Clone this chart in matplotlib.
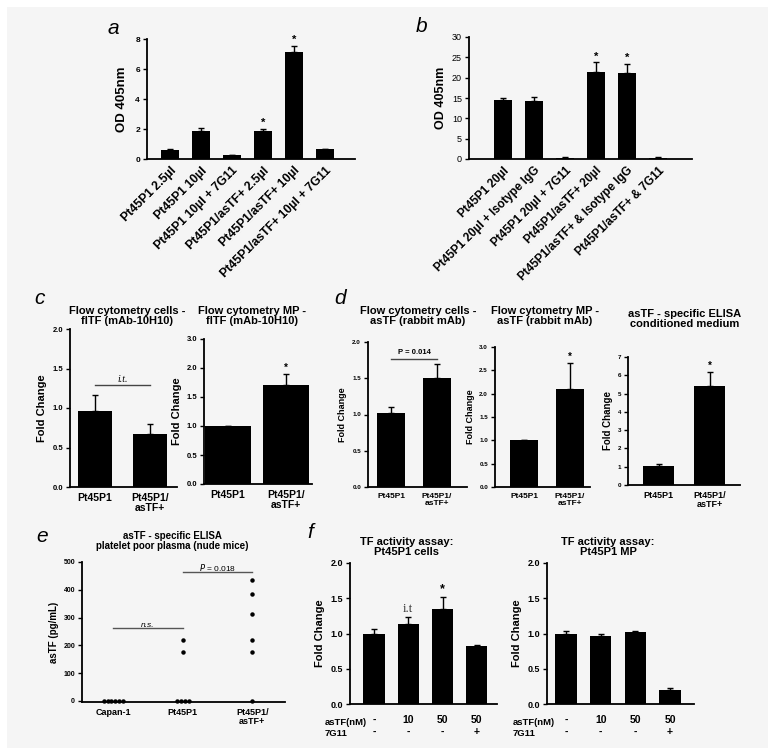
import matplotlib
matplotlib.use('Agg')
import matplotlib.pyplot as plt
from matplotlib.patches import Rectangle
import numpy as np

plt.rcParams['font.family'] = ['Liberation Sans', 'DejaVu Sans']

W, H = 778, 756

# ---- data ----
# a: chromogenic assay, MP volumes
a_labels = ['Pt45P1 2.5µl', 'Pt45P1 10µl', 'Pt45P1 10µl + 7G11', 'Pt45P1/asTF+ 2.5µl',
            'Pt45P1/asTF+ 10µl', 'Pt45P1/asTF+ 10µl + 7G11']
a_vals = [0.6, 1.85, 0.25, 1.85, 7.15, 0.65]
a_err = [0.1, 0.2, 0.04, 0.15, 0.4, 0.04]
a_star = [0, 0, 0, 1, 1, 0]

# b
b_labels = ['Pt45P1 20µl', 'Pt45P1 20µl + Isotype IgG', 'Pt45P1 20µl + 7G11', 'Pt45P1/asTF+ 20µl',
            'Pt45P1/asTF+ & Isotype IgG', 'Pt45P1/asTF+ & 7G11']
b_vals = [14.5, 14.3, 0.3, 21.5, 21.1, 0.3]
b_err = [0.4, 0.9, 0.1, 2.3, 2.3, 0.1]
b_star = [0, 0, 0, 1, 1, 0]

two_groups = ['Pt45P1', 'Pt45P1/\nasTF+']

# c
c1_vals = [0.96, 0.67]
c1_err = [0.21, 0.13]
c2_vals = [1.0, 1.7]
c2_err = [0.0, 0.2]
c2_ticks = ['0.0', '0.5', '1.0', '1.5', '2.0', '3.0']

# d
d1_vals = [1.02, 1.51]
d1_err = [0.08, 0.19]
d2_vals = [1.0, 2.1]
d2_err = [0.0, 0.55]
d3_vals = [1.02, 5.4]
d3_err = [0.12, 0.8]

# e: scatter
e_groups = ['Capan-1', 'Pt45P1', 'Pt45P1/\nasTF+']
e_capan = [0, 0, 0, 0, 0, 0]
e_pt = [220, 175, 0, 0, 0, 0]
e_as = [435, 385, 312, 220, 175, 0]

# f
f_astf = ['-', '10', '50', '50']
f_7g11 = ['-', '-', '-', '+']
f1_vals = [1.0, 1.13, 1.35, 0.82]
f1_err = [0.06, 0.1, 0.17, 0.02]
f2_vals = [1.0, 0.96, 1.02, 0.2]
f2_err = [0.03, 0.03, 0.02, 0.03]

fig = plt.figure(figsize=(W / 100, H / 100), dpi=100)
fig.patch.set_facecolor('white')
fig.patches.append(Rectangle((7 / W, 1 - 748 / H), (768 - 7) / W, (748 - 7) / H,
                             transform=fig.transFigure, facecolor='#f5f5f5', edgecolor='none', zorder=-10))


def add_ax(x0, y0, x1, y1):
    ax = fig.add_axes([x0 / W, 1 - y1 / H, (x1 - x0) / W, (y1 - y0) / H])
    ax.patch.set_visible(False)
    for s in ['top', 'right']:
        ax.spines[s].set_visible(False)
    for s in ['left', 'bottom']:
        ax.spines[s].set_linewidth(1.3)
    ax.tick_params(axis='y', direction='out', length=3, width=1, pad=2)
    ax.tick_params(axis='x', length=0, pad=4)
    return ax


def ftext(x, y, s, **kw):
    return fig.text(x / W, 1 - y / H, s, **kw)


def bars(ax, vals, err, width, stars=None, pad=0.0, star_size=8):
    x = np.arange(len(vals))
    ax.bar(x, vals, width, color='black', zorder=2)
    ax.errorbar(x, vals, yerr=[np.zeros(len(vals)), err], fmt='none', ecolor='black',
                elinewidth=1, capsize=2.5, capthick=1, zorder=1)
    if stars:
        for xi, v, e, s in zip(x, vals, err, stars):
            if s:
                ax.text(xi, v + e + pad, '*', ha='center', va='bottom', fontsize=star_size,
                        fontweight='bold')
    return x


def yticks(ax, ticks, labels, size, bold=True):
    ax.set_yticks(ticks)
    ax.set_yticklabels(labels, fontsize=size, fontweight='bold' if bold else 'normal')


# ---- panel a ----
ax = add_ax(147, 39, 355, 159)
x = bars(ax, a_vals, a_err, 0.58, a_star, 0.05)
ax.set_ylim(0, 8)
ax.set_xlim(-0.74, 5.97)
yticks(ax, [0, 2, 4, 6, 8], ['0', '2', '4', '6', '8'], 6)
ax.set_xticks(x)
ax.set_xticklabels(a_labels, rotation=45, ha='right', rotation_mode='anchor', fontsize=8.8,
                   fontweight='bold')
ax.set_ylabel('OD 405nm', fontsize=9.5, fontweight='bold', labelpad=5)
ftext(113, 28, 'a', fontsize=15, style='italic', ha='center', va='center')

# ---- panel b ----
ax = add_ax(469, 37, 692, 159)
x = bars(ax, b_vals, b_err, 0.6, b_star, 0.2)
ax.set_ylim(0, 30)
ax.set_xlim(-1.1, 6.1)
yticks(ax, [0, 5, 10, 15, 20, 25, 30], ['0', '5', '10', '15', '20', '25', '30'], 6.5, bold=False)
ax.set_xticks(x)
ax.set_xticklabels(b_labels, rotation=45, ha='right', rotation_mode='anchor', fontsize=8.5,
                   fontweight='bold')
ax.set_ylabel('OD 405nm', fontsize=9, fontweight='bold', labelpad=4)
ftext(422, 26, 'b', fontsize=15, style='italic', ha='center', va='center')

# ---- panel c ----
ax = add_ax(70, 329, 177, 487)
x = bars(ax, c1_vals, c1_err, 0.62)
ax.set_ylim(0, 2.0)
ax.set_xlim(-0.45, 1.49)
yticks(ax, [0, 0.5, 1.0, 1.5, 2.0], ['0.0', '0.5', '1.0', '1.5', '2.0'], 5.5)
ax.set_xticks(x)
ax.set_xticklabels(two_groups, fontsize=7.5, fontweight='bold', linespacing=1.1)
ax.set_ylabel('Fold Change', fontsize=8, fontweight='bold', labelpad=4)
ax.plot([0, 1], [1.29, 1.29], color='#444444', lw=1)
ax.text(0.5, 1.31, 'i.t.', ha='center', va='bottom', fontsize=7, style='italic',
        family='Liberation Serif')
ftext(127, 316, 'Flow cytometry cells -\nflTF (mAb-10H10)', ha='center', va='center', fontsize=8,
      fontweight='bold', linespacing=1.1)
ftext(40, 298, 'c', fontsize=15, style='italic', ha='center', va='center')

ax = add_ax(204, 339, 312, 484)
x = bars(ax, c2_vals, c2_err, 0.8, [0, 1], 0.02, star_size=7)
ax.set_ylim(0, 2.5)
ax.set_xlim(-0.41, 1.45)
yticks(ax, [0, 0.5, 1.0, 1.5, 2.0, 2.5], c2_ticks, 5.5)
ax.set_xticks(x)
ax.set_xticklabels(two_groups, fontsize=7.5, fontweight='bold', linespacing=1.1)
ax.set_ylabel('Fold Change', fontsize=8, fontweight='bold', labelpad=3)
ftext(252, 316, 'Flow cytometry MP -\nflTF (mAb-10H10)', ha='center', va='center', fontsize=8,
      fontweight='bold', linespacing=1.1)

# ---- panel d ----
ax = add_ax(368, 342, 467, 487)
x = bars(ax, d1_vals, d1_err, 0.62)
ax.set_ylim(0, 2.0)
ax.set_xlim(-0.5, 1.65)
yticks(ax, [0, 0.5, 1.0, 1.5, 2.0], ['0.0', '0.5', '1.0', '1.5', '2.0'], 4.5)
ax.set_xticks(x)
ax.set_xticklabels(two_groups, fontsize=6, fontweight='bold', linespacing=1.1)
ax.set_ylabel('Fold Change', fontsize=6.5, fontweight='bold', labelpad=4)
ax.plot([0, 1], [1.77, 1.77], color='#444444', lw=1)
ax.text(0.5, 1.8, 'P = 0.014', ha='center', va='bottom', fontsize=5.5, fontweight='bold')
ftext(418, 316, 'Flow cytometry cells -\nasTF (rabbit mAb)', ha='center', va='center', fontsize=8,
      fontweight='bold', linespacing=1.1)
ftext(340, 298, 'd', fontsize=15, style='italic', ha='center', va='center')

ax = add_ax(495, 347, 590, 487)
x = bars(ax, d2_vals, d2_err, 0.6, [0, 1], 0.03, star_size=7)
ax.set_ylim(0, 3.0)
ax.set_xlim(-0.63, 1.43)
yticks(ax, [0, 0.5, 1.0, 1.5, 2.0, 2.5, 3.0], ['0.0', '0.5', '1.0', '1.5', '2.0', '2.5', '3.0'], 4.5)
ax.set_xticks(x)
ax.set_xticklabels(two_groups, fontsize=6, fontweight='bold', linespacing=1.1)
ax.set_ylabel('Fold Change', fontsize=6.5, fontweight='bold', labelpad=3)
ftext(545, 316, 'Flow cytometry MP -\nasTF (rabbit mAb)', ha='center', va='center', fontsize=8,
      fontweight='bold', linespacing=1.1)

ax = add_ax(628, 357, 740, 485)
x = bars(ax, d3_vals, d3_err, 0.6, [0, 1], 0.05, star_size=7)
ax.set_ylim(0, 7)
ax.set_xlim(-0.6, 1.59)
yticks(ax, range(8), [str(i) for i in range(8)], 4.5)
ax.set_xticks(x)
ax.set_xticklabels(two_groups, fontsize=6.5, fontweight='bold', linespacing=1.1)
ax.set_ylabel('Fold Change', fontsize=7, fontweight='bold', labelpad=3)
ftext(685, 319, 'asTF - specific ELISA\nconditioned medium', ha='center', va='center', fontsize=8,
      fontweight='bold', linespacing=1.1)

# ---- panel e ----
ax = add_ax(82, 562, 285, 702)
for i, vals in enumerate([e_capan, e_pt, e_as]):
    vals = np.array(vals, dtype=float)
    xs = np.full(len(vals), float(i))
    zeros = np.where(vals == 0)[0]
    if len(zeros) > 1:
        xs[zeros] = i + (np.arange(len(zeros)) - (len(zeros) - 1) / 2) * 0.055
    ax.plot(xs, vals, 'o', color='black', markersize=2.2, clip_on=False)
ax.set_ylim(-4, 500)
ax.set_xlim(-0.45, 2.47)
yticks(ax, [0, 100, 200, 300, 400, 500], ['0', '100', '200', '300', '400', '500'], 5)
ax.set_xticks([0, 1, 2])
ax.set_xticklabels(e_groups, fontsize=6.5, fontweight='bold', linespacing=1.1)
ax.set_ylabel('asTF (pg/mL)', fontsize=7, fontweight='bold', labelpad=3)
ax.plot([0, 1], [263, 263], color='#555555', lw=1)
ax.text(0.5, 259, 'n.s.', ha='center', va='bottom', fontsize=6, style='italic')
ax.plot([1, 2], [463, 463], color='#555555', lw=1)
ax.text(1.5, 459, '$\\it{P}$ = 0.018', ha='center', va='bottom', fontsize=6)
ftext(172, 541, 'asTF - specific ELISA\nplatelet poor plasma (nude mice)', ha='center', va='center',
      fontsize=7, fontweight='bold', linespacing=1.1)
ftext(42, 537, 'e', fontsize=15, style='italic', ha='center', va='center')

# ---- panel f ----
f_xlabels = [f'{a}\n{b}' for a, b in zip(f_astf, f_7g11)]

ax = add_ax(350, 563, 497, 704)
x = bars(ax, f1_vals, f1_err, 0.62)
ax.text(1, f1_vals[1] + f1_err[1] + 0.03, 'i.t', ha='center', va='bottom', fontsize=9,
        family='Liberation Serif', color='#333333')
ax.text(2, f1_vals[2] + f1_err[2] + 0.02, '*', ha='center', va='bottom', fontsize=9, fontweight='bold')
ax.set_ylim(0, 2.0)
ax.set_xlim(-0.7, 3.59)
yticks(ax, [0, 0.5, 1.0, 1.5, 2.0], ['0.0', '0.5', '1.0', '1.5', '2.0'], 6.5)
ax.set_xticks(x)
ax.set_xticklabels(f_xlabels, fontsize=7.5, fontweight='bold', linespacing=1.2)
ax.tick_params(axis='x', pad=8)
ax.set_ylabel('Fold Change', fontsize=8, fontweight='bold', labelpad=4)
ftext(325, 728, 'asTF(nM)\n7G11', ha='left', va='center', fontsize=6.8, fontweight='bold',
      linespacing=1.35)
ftext(407, 547, 'TF activity assay:\nPt45P1 cells', ha='center', va='center', fontsize=8,
      fontweight='bold', linespacing=1.1)
ftext(310, 533, 'f', fontsize=15, style='italic', ha='center', va='center')

ax = add_ax(547, 563, 694, 704)
x = bars(ax, f2_vals, f2_err, 0.62)
ax.set_ylim(0, 2.0)
ax.set_xlim(-0.55, 3.69)
yticks(ax, [0, 0.5, 1.0, 1.5, 2.0], ['0.0', '0.5', '1.0', '1.5', '2.0'], 6.5)
ax.set_xticks(x)
ax.set_xticklabels(f_xlabels, fontsize=7.5, fontweight='bold', linespacing=1.2)
ax.tick_params(axis='x', pad=8)
ax.set_ylabel('Fold Change', fontsize=8, fontweight='bold', labelpad=4)
ftext(513, 728, 'asTF(nM)\n7G11', ha='left', va='center', fontsize=6.8, fontweight='bold',
      linespacing=1.35)
ftext(608, 547, 'TF activity assay:\nPt45P1 MP', ha='center', va='center', fontsize=8,
      fontweight='bold', linespacing=1.1)

fig.savefig('out.png', dpi=100)
